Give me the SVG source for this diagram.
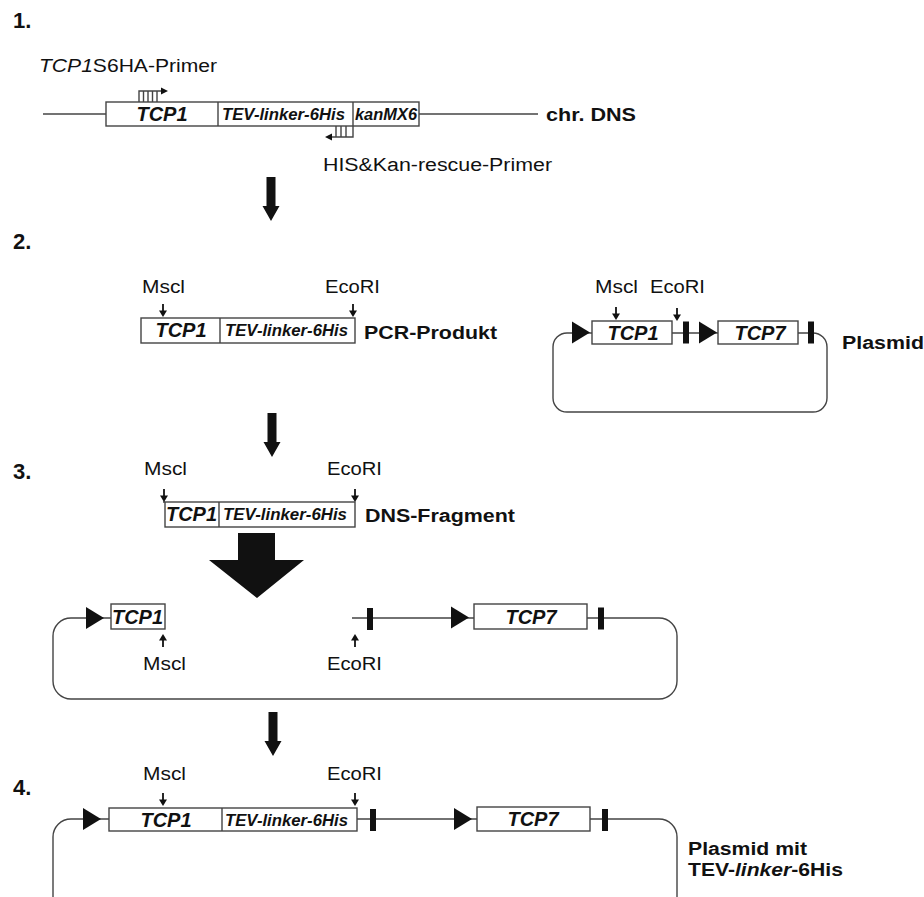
<svg xmlns="http://www.w3.org/2000/svg" xmlns:xlink="http://www.w3.org/1999/xlink" width="924" height="897" viewBox="0 0 924 897">
  <style>
    .ln { fill: none; stroke: #444; stroke-width: 1.4; }
    .box { fill: #fff; stroke: #444; stroke-width: 1.4; }
    .gene { font-family: "Liberation Sans", Arial, sans-serif; font-weight: bold; font-style: italic; fill: #111; }
    .g20 { font-size: 20px; }
    .g16 { font-size: 16.5px; }
    .lbl { font-family: "Liberation Sans", Arial, sans-serif; font-size: 18px; fill: #111; }
    .blbl { font-family: "Liberation Sans", Arial, sans-serif; font-size: 18px; font-weight: bold; fill: #111; }
    .num { font-family: "Liberation Sans", Arial, sans-serif; font-size: 22px; font-weight: bold; fill: #111; }
  </style>
  <defs>
    <!-- restriction site arrow pointing down, tip at origin -->
    <g id="rdown">
      <line x1="0" y1="-13" x2="0" y2="-5" stroke="#111" stroke-width="1.8"/>
      <polygon points="-4,-6.5 4,-6.5 0,0" fill="#111"/>
    </g>
    <!-- restriction site arrow pointing up, tip at origin -->
    <g id="rup">
      <line x1="0" y1="13" x2="0" y2="5" stroke="#111" stroke-width="1.8"/>
      <polygon points="-4,6.5 4,6.5 0,0" fill="#111"/>
    </g>
    <!-- promoter triangle, left edge centred at origin -->
    <polygon id="prom" points="0,-11 18,0 0,11" fill="#111"/>
    <!-- terminator bar -->
    <rect id="term" x="0" y="-11" width="6" height="22" fill="#111"/>
    <!-- process step arrow -->
    <path id="step" d="M -4.5 0 H 4.5 V 29 H 8.5 L 0 44 L -8.5 29 H -4.5 Z" fill="#111"/>
  </defs>

  <rect width="924" height="897" fill="#fff"/>

  <!-- section numbers -->
  <text class="num" x="13" y="28">1.</text>
  <text class="num" x="13" y="249">2.</text>
  <text class="num" x="13" y="479">3.</text>
  <text class="num" x="13" y="795">4.</text>

  <!-- step 1: chromosomal locus with primers -->
  <g id="chromosome">
    <line class="ln" x1="43" y1="114" x2="106" y2="114"/>
    <line class="ln" x1="419" y1="114" x2="538" y2="114"/>
    <rect class="box" x="106" y="102" width="313" height="24"/>
    <line class="ln" x1="218" y1="102" x2="218" y2="126"/>
    <line class="ln" x1="353" y1="102" x2="353" y2="126"/>
    <text class="gene g20" x="162" y="121" text-anchor="middle">TCP1</text>
    <text class="gene g16" x="222" y="120" textLength="123" lengthAdjust="spacingAndGlyphs">TEV-linker-6His</text>
    <text class="gene g16" x="355" y="120" textLength="62" lengthAdjust="spacingAndGlyphs">kanMX6</text>
    <text class="blbl" x="546" y="121" textLength="90" lengthAdjust="spacingAndGlyphs">chr. DNS</text>
  </g>
  <g id="primer-fwd">
    <path class="ln" d="M139 102 V91 H162 M143.5 91 V102 M148 91 V102 M152.5 91 V102 M157 91 V102"/>
    <polygon points="161,87.5 168,91 161,94.5" fill="#111"/>
    <text class="lbl" x="39" y="72" textLength="178" lengthAdjust="spacingAndGlyphs"><tspan font-style="italic">TCP1</tspan>S6HA-Primer</text>
  </g>
  <g id="primer-rev">
    <path class="ln" d="M353 126 V137 H331 M336 126 V137 M341 126 V137 M346 126 V137"/>
    <polygon points="332,133.5 325,137 332,140.5" fill="#111"/>
    <text class="lbl" x="323" y="171" textLength="229" lengthAdjust="spacingAndGlyphs">HIS&amp;Kan-rescue-Primer</text>
  </g>

  <!-- step 2: PCR product -->
  <g id="pcr-product">
    <rect class="box" x="141" y="318" width="214" height="25"/>
    <line class="ln" x1="220" y1="318" x2="220" y2="343"/>
    <text class="gene g20" x="181" y="337" text-anchor="middle">TCP1</text>
    <text class="gene g16" x="225" y="336" textLength="123" lengthAdjust="spacingAndGlyphs">TEV-linker-6His</text>
    <use xlink:href="#rdown" x="163" y="317"/>
    <use xlink:href="#rdown" x="353" y="317"/>
    <text class="lbl" x="142" y="293" textLength="43" lengthAdjust="spacingAndGlyphs">Mscl</text>
    <text class="lbl" x="325" y="293" textLength="55" lengthAdjust="spacingAndGlyphs">EcoRI</text>
    <text class="blbl" x="364" y="339" textLength="133" lengthAdjust="spacingAndGlyphs">PCR-Produkt</text>
  </g>

  <!-- step 2: target plasmid -->
  <g id="plasmid">
    <rect class="ln" x="553" y="333" width="274" height="79" rx="14" ry="14"/>
    <use xlink:href="#prom" x="572" y="332.5"/>
    <rect class="box" x="592" y="321" width="80" height="23"/>
    <text class="gene g20" x="633" y="339.5" text-anchor="middle">TCP1</text>
    <use xlink:href="#term" x="683" y="332.5"/>
    <use xlink:href="#prom" x="699" y="332.5"/>
    <rect class="box" x="718" y="321" width="80" height="23"/>
    <text class="gene g20" x="760" y="339.5" text-anchor="middle">TCP7</text>
    <use xlink:href="#term" x="808" y="332.5"/>
    <use xlink:href="#rdown" x="616" y="320"/>
    <use xlink:href="#rdown" x="677" y="321"/>
    <text class="lbl" x="595" y="293" textLength="43" lengthAdjust="spacingAndGlyphs">Mscl</text>
    <text class="lbl" x="650" y="293" textLength="55" lengthAdjust="spacingAndGlyphs">EcoRI</text>
    <text class="blbl" x="842" y="349" textLength="82" lengthAdjust="spacingAndGlyphs">Plasmid</text>
  </g>

  <!-- step 3: digested insert -->
  <g id="dns-fragment">
    <rect class="box" x="165" y="502" width="190" height="25"/>
    <line class="ln" x1="219" y1="502" x2="219" y2="527"/>
    <line class="ln" x1="163" y1="502" x2="165" y2="502"/>
    <text class="gene g20" x="166" y="521" textLength="51" lengthAdjust="spacingAndGlyphs">TCP1</text>
    <text class="gene g16" x="223" y="520" textLength="124" lengthAdjust="spacingAndGlyphs">TEV-linker-6His</text>
    <use xlink:href="#rdown" x="164" y="502"/>
    <use xlink:href="#rdown" x="355" y="502"/>
    <text class="lbl" x="144" y="475" textLength="43" lengthAdjust="spacingAndGlyphs">Mscl</text>
    <text class="lbl" x="327" y="475" textLength="55" lengthAdjust="spacingAndGlyphs">EcoRI</text>
    <text class="blbl" x="365" y="522" textLength="150" lengthAdjust="spacingAndGlyphs">DNS-Fragment</text>
  </g>

  <!-- step 3: opened vector -->
  <g id="cut-vector">
    <path class="ln" d="M111 618 H71 A18 18 0 0 0 53 636 V681 A18 18 0 0 0 71 699 H659 A18 18 0 0 0 677 681 V636 A18 18 0 0 0 659 618 H352"/>
    <use xlink:href="#prom" x="86" y="618"/>
    <rect class="box" x="111" y="604" width="54" height="25"/>
    <text class="gene g20" x="112" y="623.5" textLength="51" lengthAdjust="spacingAndGlyphs">TCP1</text>
    <use xlink:href="#term" x="367" y="619"/>
    <use xlink:href="#prom" x="451" y="617.5"/>
    <rect class="box" x="474" y="604" width="113" height="25"/>
    <text class="gene g20" x="531" y="623.5" text-anchor="middle">TCP7</text>
    <use xlink:href="#term" x="598" y="618.5"/>
    <use xlink:href="#rup" x="163" y="634"/>
    <use xlink:href="#rup" x="355" y="634"/>
    <text class="lbl" x="143" y="670" textLength="43" lengthAdjust="spacingAndGlyphs">Mscl</text>
    <text class="lbl" x="327" y="670" textLength="55" lengthAdjust="spacingAndGlyphs">EcoRI</text>
  </g>

  <!-- step 4: final construct -->
  <g id="final-plasmid">
    <path class="ln" d="M53 910 V837 A18 18 0 0 1 71 819 H659 A18 18 0 0 1 677 837 V910"/>
    <use xlink:href="#prom" x="83" y="819"/>
    <rect class="box" x="109" y="808" width="248" height="23"/>
    <line class="ln" x1="222" y1="808" x2="222" y2="831"/>
    <text class="gene g20" x="166" y="826.5" text-anchor="middle">TCP1</text>
    <text class="gene g16" x="225" y="825.5" textLength="123" lengthAdjust="spacingAndGlyphs">TEV-linker-6His</text>
    <use xlink:href="#term" x="370" y="820"/>
    <use xlink:href="#prom" x="454" y="819"/>
    <rect class="box" x="477" y="807" width="113" height="24"/>
    <text class="gene g20" x="533" y="826" text-anchor="middle">TCP7</text>
    <use xlink:href="#term" x="602" y="820"/>
    <use xlink:href="#rdown" x="163" y="806"/>
    <use xlink:href="#rdown" x="355" y="806"/>
    <text class="lbl" x="143" y="780" textLength="43" lengthAdjust="spacingAndGlyphs">Mscl</text>
    <text class="lbl" x="327" y="780" textLength="55" lengthAdjust="spacingAndGlyphs">EcoRI</text>
    <text class="blbl" x="688" y="855" textLength="119" lengthAdjust="spacingAndGlyphs">Plasmid mit</text>
    <text class="blbl" x="688" y="876" textLength="155" lengthAdjust="spacingAndGlyphs">TEV-<tspan font-style="italic">linker</tspan>-6His</text>
  </g>

  <!-- process arrows between steps -->
  <g id="connectors">
    <use xlink:href="#step" x="271" y="177"/>
    <use xlink:href="#step" x="272" y="413"/>
    <path d="M238 533 H275 V560 H304 L257 598 L209 560 H238 Z" fill="#111"/>
    <use xlink:href="#step" x="273" y="712"/>
  </g>
</svg>
